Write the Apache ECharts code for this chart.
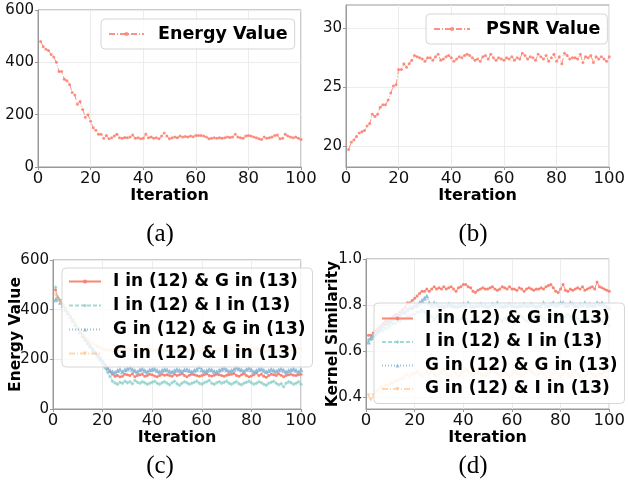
<!DOCTYPE html>
<html><head><meta charset="utf-8">
<script src="https://cdn.jsdelivr.net/npm/echarts@6/dist/echarts.min.js"></script>
<style>html,body{margin:0;padding:0;background:#fff}#c{width:628px;height:489px}</style>
</head><body><div id="c"></div>
<script>
// ---- data ----
const energyA = [480,460,450,445,430,420,400,365,365,335,
 330,315,285,275,240,250,220,190,200,175,
 150,140,125,125,110,120,108,112,118,125,
 112,110,113,112,115,122,110,112,108,110,
 126,112,115,110,112,108,118,130,118,108,
 112,115,112,118,115,117,115,118,116,120,
 120,120,118,115,108,110,112,110,112,110,
 112,115,113,115,125,115,112,110,118,120,
 118,115,112,108,105,115,110,112,115,120,
 122,108,110,125,118,115,112,115,110,105];
const psnrB = [19.7,20.3,20.5,20.8,21.1,21.2,21.3,21.7,21.9,22.7,
 22.5,22.7,23.3,23.5,23.5,23.9,24.5,25.1,25.2,26.5,
 26.5,27.0,26.7,27.0,27.3,27.7,27.6,27.5,27.4,27.2,
 27.5,27.5,27.3,27.6,27.8,27.3,27.4,27.6,27.7,27.5,
 27.2,27.4,27.6,27.5,27.7,27.8,27.7,27.5,27.3,27.4,
 27.2,27.6,27.7,27.4,27.8,27.5,27.3,27.5,27.4,27.3,
 27.5,27.4,27.6,27.3,27.5,27.4,27.9,27.7,27.4,27.6,
 27.5,27.3,27.8,27.6,27.4,27.7,27.2,27.5,27.8,27.2,
 27.6,27.0,27.9,27.7,27.4,27.5,27.5,27.4,27.8,27.1,
 27.6,27.5,27.7,27.1,27.6,27.4,27.6,27.4,27.2,27.6];
const energyC_IG = [480,445,438,420,405,390,372,355,340,325,
 310,295,282,268,255,242,230,218,205,192,
 178,165,150,140,132,135,130,132,140,138,
 135,142,130,135,138,140,132,135,140,138,
 133,130,135,140,136,138,135,132,140,135,
 138,142,135,130,136,140,138,135,132,135,
 138,142,135,133,136,140,138,135,132,136,
 138,140,143,135,132,138,142,135,130,133,
 138,145,135,140,132,128,135,140,138,135,
 142,136,130,135,138,140,136,135,138,140];
const energyC_II = [490,440,435,420,400,385,370,355,338,322,
 305,290,275,262,250,235,222,210,196,182,
 165,148,130,112,105,100,108,104,112,106,
 110,102,115,108,104,110,106,100,104,108,
 112,104,100,106,110,104,98,106,112,102,
 96,104,110,106,100,104,108,112,104,100,
 106,110,115,104,100,106,110,104,108,112,
 104,100,106,110,102,98,104,108,112,106,
 100,104,110,106,100,96,104,108,112,104,
 98,102,90,104,110,106,100,104,110,100];
const energyC_GG = [440,450,430,418,400,388,372,356,340,325,
 310,296,282,268,255,242,230,218,205,192,
 178,165,155,150,148,155,160,150,158,162,
 168,160,155,150,158,162,155,150,158,160,
 162,155,150,156,160,158,152,150,155,160,
 156,152,158,160,155,150,156,160,170,158,
 152,155,160,158,152,150,156,160,165,158,
 152,155,160,168,162,158,152,160,165,158,
 150,155,160,162,156,150,155,160,156,152,
 158,162,156,150,155,158,162,156,150,158];
const energyC_GI = [460,440,430,415,400,385,370,355,340,325,
 312,300,290,280,270,262,255,250,245,240,
 238,235,236,232,235,232,238,235,230,240,
 236,232,238,242,235,230,236,240,238,232,
 235,240,238,234,230,236,240,242,236,232,
 238,240,235,230,236,240,238,234,230,236,
 240,242,238,234,230,236,240,238,232,236,
 240,244,238,234,230,236,240,238,232,236,
 240,242,238,234,230,232,236,240,238,234,
 230,236,240,238,234,232,236,242,244,238];
const simD_IG = [0.67,0.67,0.68,0.69,0.70,0.71,0.72,0.73,0.73,0.74,
 0.75,0.76,0.76,0.77,0.78,0.79,0.81,0.81,0.82,0.83,
 0.84,0.85,0.86,0.86,0.87,0.86,0.87,0.88,0.87,0.875,
 0.87,0.88,0.87,0.875,0.88,0.87,0.86,0.875,0.88,0.89,
 0.89,0.88,0.875,0.86,0.855,0.865,0.87,0.875,0.87,0.87,
 0.875,0.88,0.87,0.865,0.87,0.88,0.875,0.87,0.88,0.87,
 0.87,0.865,0.875,0.87,0.86,0.87,0.875,0.87,0.865,0.87,
 0.87,0.875,0.87,0.88,0.885,0.89,0.875,0.86,0.855,0.87,
 0.89,0.865,0.86,0.87,0.865,0.87,0.875,0.87,0.88,0.865,
 0.87,0.875,0.88,0.87,0.9,0.88,0.875,0.87,0.865,0.86];
const simD_II = [0.65,0.65,0.66,0.67,0.68,0.69,0.69,0.70,0.70,0.71,
 0.72,0.72,0.73,0.73,0.74,0.74,0.75,0.75,0.76,0.76,
 0.77,0.77,0.78,0.77,0.76,0.76,0.75,0.74,0.75,0.76,
 0.74,0.73,0.74,0.75,0.76,0.75,0.74,0.73,0.74,0.75,
 0.74,0.73,0.72,0.73,0.74,0.75,0.74,0.73,0.72,0.73,
 0.74,0.75,0.76,0.75,0.74,0.73,0.74,0.75,0.74,0.73,
 0.74,0.75,0.76,0.75,0.74,0.73,0.74,0.75,0.74,0.75,
 0.76,0.75,0.74,0.73,0.74,0.75,0.76,0.77,0.76,0.75,
 0.74,0.75,0.76,0.75,0.74,0.75,0.74,0.73,0.74,0.75,
 0.74,0.73,0.74,0.75,0.74,0.73,0.73,0.72,0.72,0.71];
const simD_GG = [0.64,0.66,0.67,0.68,0.69,0.70,0.71,0.72,0.72,0.73,
 0.74,0.75,0.75,0.76,0.77,0.77,0.78,0.79,0.79,0.80,
 0.80,0.81,0.82,0.83,0.84,0.81,0.80,0.81,0.805,0.80,
 0.80,0.795,0.80,0.805,0.80,0.80,0.795,0.80,0.80,0.805,
 0.80,0.81,0.80,0.795,0.80,0.80,0.805,0.80,0.80,0.795,
 0.80,0.805,0.80,0.81,0.80,0.795,0.80,0.80,0.805,0.80,
 0.80,0.795,0.80,0.80,0.805,0.80,0.80,0.805,0.80,0.795,
 0.80,0.80,0.81,0.80,0.80,0.805,0.81,0.80,0.805,0.81,
 0.81,0.80,0.80,0.81,0.805,0.80,0.80,0.805,0.80,0.81,
 0.80,0.805,0.80,0.80,0.81,0.805,0.81,0.80,0.795,0.79];
const simD_GI = [0.41,0.39,0.41,0.42,0.43,0.44,0.44,0.45,0.45,0.46,
 0.46,0.47,0.47,0.48,0.48,0.49,0.50,0.49,0.50,0.50,
 0.51,0.50,0.49,0.50,0.51,0.50,0.51,0.50,0.49,0.50,
 0.51,0.52,0.50,0.49,0.50,0.51,0.50,0.49,0.50,0.51,
 0.52,0.51,0.50,0.49,0.50,0.51,0.50,0.50,0.49,0.50,
 0.51,0.52,0.51,0.50,0.49,0.50,0.51,0.50,0.49,0.50,
 0.51,0.50,0.50,0.49,0.50,0.51,0.52,0.51,0.50,0.49,
 0.50,0.51,0.50,0.49,0.48,0.49,0.50,0.51,0.50,0.49,
 0.50,0.51,0.50,0.49,0.50,0.51,0.50,0.49,0.48,0.49,
 0.50,0.51,0.50,0.49,0.49,0.50,0.50,0.51,0.51,0.51];
const seriesNames = ['I in (12) & G in (13)','I in (12) & I in (13)','G in (12) & G in (13)','G in (12) & I in (13)'];
const xTicks = [0,20,40,60,80,100];
const psnrTicks = [20,25,30];
const simTicks = [0.4,0.6,0.8,1.0];
const captions = ['(a)','(b)','(c)','(d)'];

// ---- styling ----
const FONT = 'DejaVu Sans';
const RED='#FA7F6F', TEAL='#8ECFC9', BLUE='#82B0D2', ORANGE='#FFBE7A';
const styles = [
  {color:RED, symbol:'circle', size:3, dash:'solid', op:0.95},
  {color:TEAL, symbol:'diamond', size:4, dash:[4,2], op:0.8},
  {color:BLUE, symbol:'triangle', size:5, dash:[1,2], op:0.8},
  {color:ORANGE, symbol:'triangle', size:4, dash:[6,2,1,2], op:0.6, rot:180}
];
const toXY = arr => arr.map((v,i)=>[i+1, v]);
function mk(name, data, idx, st){
  return {type:'line', name, xAxisIndex:idx, yAxisIndex:idx, data:toXY(data),
    symbol:st.symbol, symbolSize:st.size, symbolRotate:st.rot||0, showSymbol:true,
    lineStyle:{color:st.color, width:1, type:st.dash, opacity:st.op},
    itemStyle:{color:st.color, opacity:st.op}, animation:false, z:2};
}
const grids = [
  {left:38, top:10, width:263, height:157},
  {left:346, top:5, width:271, height:162},
  {left:53, top:260, width:248, height:149},
  {left:366, top:259, width:251, height:150}
].map(g=>Object.assign(g,{show:true, borderColor:'#999', borderWidth:1}));

function xAx(i, gap){
  return {type:'value', gridIndex:i, min:0, max:100, interval:20,
    axisLine:{show:true,onZero:false,lineStyle:{color:'#999'}},
    axisTick:{show:true,length:3,lineStyle:{color:'#999'}},
    axisLabel:{fontFamily:FONT,fontSize:16.5,color:'#111',margin:3},
    splitLine:{show:true,lineStyle:{color:'#ececec'}},
    name:'Iteration', nameLocation:'middle', nameGap:gap,
    nameTextStyle:{fontFamily:FONT,fontWeight:'bold',fontSize:16,color:'#000'}};
}
function yAx(i, extra){
  return Object.assign({type:'value', gridIndex:i,
    axisLine:{show:true,onZero:false,lineStyle:{color:'#999'}},
    axisTick:{show:true,length:3,lineStyle:{color:'#999'}},
    axisLabel:{fontFamily:FONT,fontSize:15,color:'#111',margin:4},
    splitLine:{show:true,lineStyle:{color:'#ececec'}},
    nameMoveOverlap:false,
    nameTextStyle:{fontFamily:FONT,fontWeight:'bold',fontSize:15.5,color:'#000'}}, extra);
}
const xAxes = [xAx(0,17), xAx(1,17), xAx(2,15), xAx(3,15)];
const yAxes = [
  yAx(0,{min:0,max:600,interval:200}),
  yAx(1,{min:18.2,max:32,axisLabel:{fontFamily:FONT,fontSize:15,color:'#111',margin:4,customValues:psnrTicks},
     axisTick:{show:true,length:3,lineStyle:{color:'#999'},customValues:psnrTicks}}),
  yAx(2,{min:0,max:600,interval:200,name:'Energy Value',nameLocation:'middle',nameGap:29}),
  yAx(3,{min:0.35,max:1.0,name:'Kernel Similarity',nameLocation:'middle',nameGap:25,
     axisLabel:{fontFamily:FONT,fontSize:15,color:'#111',margin:4,customValues:simTicks,formatter:v=>v.toFixed(1)},
     axisTick:{show:true,length:3,lineStyle:{color:'#999'},customValues:simTicks}})
];

const series = [
  mk('Energy Value', energyA, 0, {color:RED,symbol:'circle',size:3,dash:[6,2,1,2],op:0.85}),
  mk('PSNR Value', psnrB, 1, {color:RED,symbol:'circle',size:3,dash:[6,2,1,2],op:0.85}),
  mk(seriesNames[0], energyC_IG, 2, styles[0]),
  mk(seriesNames[1], energyC_II, 2, styles[1]),
  mk(seriesNames[2], energyC_GG, 2, styles[2]),
  mk(seriesNames[3], energyC_GI, 2, styles[3]),
  mk(seriesNames[0], simD_IG, 3, styles[0]),
  mk(seriesNames[1], simD_II, 3, styles[1]),
  mk(seriesNames[2], simD_GG, 3, styles[2]),
  mk(seriesNames[3], simD_GI, 3, styles[3])
];
function leg(data, left, top, fs, iw, pad, gap, tpad){
  return {data, left, top, orient:'vertical', padding:pad, itemGap:gap, itemWidth:iw, itemHeight:5,
    backgroundColor:'rgba(255,255,255,0.8)', borderColor:'#d6d6d6', borderWidth:1, borderRadius:4,
    selectedMode:false, z:10,
    textStyle:{fontFamily:FONT,fontWeight:'bold',fontSize:fs,color:'#000',padding:[0,0,0,tpad]}};
}
const legends = [
  leg(['Energy Value'],101,19,17.5,35,[6,7,6,7],0,9),
  leg(['PSNR Value'],426,14,17.5,36,[6,7,6,7],0,11),
  leg(seriesNames,62,268,17,32,[5,7,5,6],7,7),
  leg(seriesNames,374,303,17,31,[7,7,6,7],6.5,7)
];
const capPos = [[160,234],[473,234],[160,466],[473,466]];
const graphics = captions.map((t,i)=>({type:'text', x:capPos[i][0], y:capPos[i][1],
  style:{text:t, font:'25px "Liberation Serif"', fill:'#000', textAlign:'center', textVerticalAlign:'middle'}}));

const chart = echarts.init(document.getElementById('c'), null, {renderer:'canvas'});
chart.setOption({animation:false, backgroundColor:'#fff', grid:grids, xAxis:xAxes, yAxis:yAxes,
  series, legend:legends, graphic:graphics});
</script></body></html>
